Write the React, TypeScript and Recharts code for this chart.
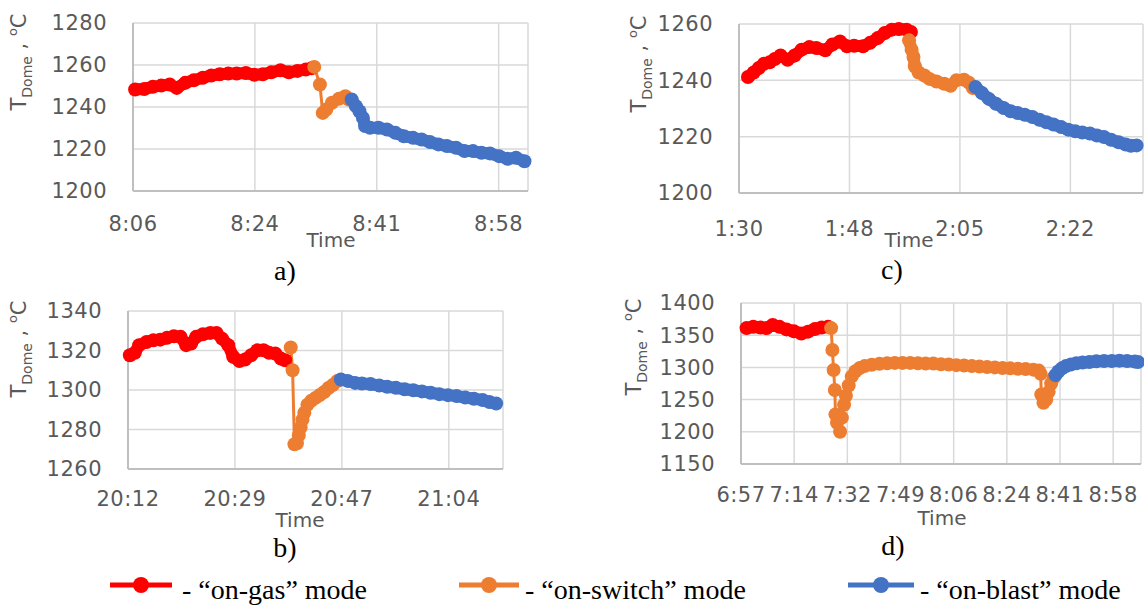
import React from 'react';
import { LineChart, Line, XAxis, YAxis, CartesianGrid } from 'recharts';

// Excel time axis major unit = 0.012 day = 17.28 min; x values are minutes from the first tick
const TICK_STEP = 17.28;

const RED = '#ff0000';
const ORANGE = '#ed7d31';
const BLUE = '#4472c4';

// ---- a) ----
const aTimeLabels = ['8:06', '8:24', '8:41', '8:58'];
const aTempTicks = [1200, 1220, 1240, 1260, 1280];
const aGas = [
  [0.3, 1248.3], [1.6, 1248.6], [2.8, 1249.6], [4.0, 1250.2], [5.2, 1250.7], [6.2, 1249.1],
  [7.4, 1251.5], [8.6, 1252.7], [9.9, 1253.9], [11.1, 1255.0], [12.3, 1255.6], [13.5, 1255.9],
  [14.7, 1255.9], [16.0, 1256.2], [17.2, 1255.3], [18.4, 1255.6], [19.6, 1256.5], [20.9, 1257.5],
  [22.1, 1256.5], [23.3, 1257.2], [24.5, 1257.8], [25.3, 1258.4],
];
const aSwitch = [
  [25.7, 1259.1], [26.5, 1250.7], [26.9, 1237.2], [27.4, 1238.8], [28.2, 1242.0],
  [29.2, 1243.9], [30.1, 1245.1], [30.6, 1243.6],
];
const aBlast = [
  [31.0, 1243.6], [31.6, 1240.4], [32.1, 1238.0], [32.6, 1234.8], [32.9, 1230.9], [33.6, 1230.1],
  [34.8, 1230.1], [36.0, 1229.3], [37.2, 1227.7], [38.4, 1226.1], [39.7, 1225.3], [40.9, 1224.5],
  [42.1, 1223.3], [43.3, 1222.2], [44.5, 1221.4], [45.8, 1220.6], [47.0, 1219.0], [48.2, 1219.0],
  [49.4, 1218.2], [50.6, 1217.9], [51.9, 1216.6], [53.1, 1215.3], [54.3, 1215.8], [55.5, 1214.2],
];

// ---- c) ----
const cTimeLabels = ['1:30', '1:48', '2:05', '2:22'];
const cTempTicks = [1200, 1220, 1240, 1260];
const cGas = [
  [1.4, 1241.2], [2.3, 1242.8], [3.1, 1244.4], [3.9, 1245.9], [4.8, 1246.4], [5.6, 1247.6],
  [6.5, 1248.8], [7.6, 1247.3], [8.7, 1248.8], [9.8, 1250.9], [11.0, 1251.8], [12.1, 1251.5],
  [13.5, 1250.7], [14.6, 1252.7], [15.8, 1253.8], [16.9, 1252.1], [18.0, 1252.3], [19.4, 1252.1],
  [20.5, 1253.3], [21.7, 1255.0], [22.8, 1256.8], [23.9, 1258.0], [25.0, 1258.2], [26.2, 1258.0],
  [26.9, 1257.2],
];
const cSwitch = [
  [26.6, 1254.2], [27.0, 1250.9], [27.3, 1248.3], [27.5, 1245.0], [28.1, 1242.8], [29.0, 1241.7],
  [29.8, 1240.5], [30.9, 1239.6], [32.1, 1238.8], [33.1, 1238.1], [34.0, 1240.0], [35.2, 1240.2],
  [36.0, 1239.1], [36.6, 1237.3],
];
const cBlast = [
  [37.0, 1237.6], [38.0, 1235.5], [39.1, 1233.4], [40.2, 1231.7], [41.4, 1230.2], [42.5, 1229.0],
  [43.6, 1228.4], [44.7, 1227.8], [45.9, 1227.0], [47.0, 1226.0], [48.1, 1225.1], [49.2, 1224.3],
  [50.4, 1223.4], [51.5, 1222.5], [52.6, 1221.9], [53.7, 1221.5], [54.9, 1221.1], [56.0, 1220.4],
  [57.1, 1219.9], [58.2, 1218.9], [59.4, 1218.0], [60.5, 1217.2], [61.3, 1216.8], [62.2, 1216.9],
];

// ---- b) ----
const bTimeLabels = ['20:12', '20:29', '20:47', '21:04'];
const bTempTicks = [1260, 1280, 1300, 1320, 1340];
const bGas = [
  [0.3, 1317.6], [1.1, 1318.8], [1.8, 1322.7], [3.0, 1324.3], [4.1, 1325.2], [5.2, 1325.5],
  [6.3, 1326.4], [7.4, 1327.2], [8.5, 1326.9], [9.4, 1322.7], [10.2, 1323.5], [11.0, 1326.9],
  [12.1, 1328.2], [13.3, 1328.9], [14.3, 1328.9], [15.2, 1326.0], [16.2, 1322.7], [17.0, 1316.8],
  [18.0, 1314.7], [18.9, 1315.4], [19.9, 1317.6], [20.9, 1320.1], [21.9, 1320.1], [22.8, 1318.8],
  [23.8, 1318.5], [24.7, 1315.9], [25.4, 1315.1],
];
const bSwitch = [
  [26.3, 1321.5], [26.6, 1310.0], [26.9, 1272.5], [27.3, 1273.0], [27.6, 1277.0], [27.9, 1281.0],
  [28.2, 1285.0], [28.5, 1288.5], [29.0, 1292.5], [29.6, 1294.5], [30.3, 1296.0], [31.0, 1297.5],
  [31.7, 1299.0], [32.4, 1301.0], [33.1, 1302.5], [33.8, 1304.5],
];
const bBlast = [
  [34.4, 1305.3], [35.5, 1304.6], [36.7, 1303.6], [37.8, 1303.3], [39.2, 1303.0], [40.6, 1302.3],
  [41.9, 1301.6], [43.3, 1301.1], [44.7, 1300.4], [46.1, 1299.9], [47.5, 1299.3], [48.9, 1298.6],
  [50.3, 1297.9], [51.7, 1297.4], [53.1, 1296.9], [54.5, 1296.2], [55.9, 1295.6], [57.3, 1294.9],
  [58.4, 1293.9], [59.5, 1293.2],
];

// ---- d) ----
const dTimeLabels = ['6:57', '7:14', '7:32', '7:49', '8:06', '8:24', '8:41', '8:58'];
const dTempTicks = [1150, 1200, 1250, 1300, 1350, 1400];
const dGas = [
  [1.8, 1361], [4.0, 1363], [6.3, 1362], [8.3, 1361], [10.3, 1366], [12.5, 1363], [14.8, 1359],
  [17.2, 1356], [19.6, 1352.5], [21.8, 1355.5], [24.0, 1359.5], [26.2, 1362], [28.3, 1363],
];
const dSwitch = [
  [29.3, 1361], [29.7, 1327], [30.1, 1296], [30.5, 1265], [30.7, 1227], [31.2, 1214], [32.2, 1200],
  [32.8, 1222], [33.5, 1242], [34.1, 1256], [35.0, 1272], [36.0, 1286], [37.2, 1294], [38.6, 1299],
  [40.2, 1302], [42.5, 1304], [45, 1305.5], [47.5, 1306.5], [50, 1307], [52.5, 1307], [55, 1307],
  [57.5, 1306.5], [60, 1306], [62.5, 1306], [65, 1305], [67.5, 1304.5], [70, 1303.5], [72.5, 1303],
  [75, 1302], [77.5, 1301.5], [80, 1300.5], [82.5, 1300], [85, 1299], [87.5, 1298.5], [90, 1298],
  [92.5, 1297.5], [95, 1296.5], [96.8, 1295], [97.4, 1290], [97.6, 1258], [98.3, 1245],
  [99.2, 1250], [100.0, 1262], [100.8, 1275], [101.6, 1284],
];
const dBlast = [
  [102.2, 1288], [103.2, 1294], [104.3, 1298.5], [105.6, 1302], [107.2, 1304.5], [109, 1306.5],
  [111, 1307.5], [113.2, 1308.5], [115.5, 1309.5], [118, 1310], [120.5, 1310], [123, 1310.5],
  [125.5, 1310], [128, 1309], [129, 1308.5],
];

const legendItems = [
  { color: RED, text: '- \u201con-gas\u201d mode' },
  { color: ORANGE, text: '- \u201con-switch\u201d mode' },
  { color: BLUE, text: '- \u201con-blast\u201d mode' },
];

const SANS = '"DejaVu Sans", sans-serif';
const SERIF = '"Liberation Serif", "Times New Roman", serif';
const GREY = '#595959';

const toRows = (pts: number[][]) => pts.map(([t, v]) => ({ t, v }));

const tickStyle = { fill: GREY, fontSize: 21, fontFamily: SANS, letterSpacing: 0.5 };

type PanelProps = {
  box: { left: number; top: number; width: number; height: number };
  plot: { left: number; top: number; right: number; bottom: number };
  xMax: number;
  timeLabels: string[];
  tempTicks: number[];
  gas: number[][];
  sw: number[][];
  blast: number[][];
  swWidth: number;
  xTickMargin: number;
};

const Panel = ({ box, plot, xMax, timeLabels, tempTicks, gas, sw, blast, swWidth, xTickMargin }: PanelProps) => {
  const margin = {
    top: plot.top - box.top,
    right: box.left + box.width - plot.right,
    bottom: 0,
    left: 0,
  };
  const xTicks = timeLabels.map((_, i) => i * TICK_STEP);
  // dense runs of Excel markers read as a thick band; sparse switch segments keep the thin line
  const series = [
    { pts: gas, color: RED, width: 12 },
    { pts: sw, color: ORANGE, width: swWidth },
    { pts: blast, color: BLUE, width: 12 },
  ];
  return (
    <div style={{ position: 'absolute', left: box.left, top: box.top }}>
      <LineChart width={box.width} height={box.height} margin={margin}>
        <CartesianGrid stroke="#d9d9d9" strokeWidth={1.5} />
        <XAxis
          type="number"
          dataKey="t"
          domain={[0, xMax]}
          ticks={xTicks}
          interval={0}
          tickFormatter={(v: number) => timeLabels[Math.round(v / TICK_STEP)]}
          height={box.top + box.height - plot.bottom}
          axisLine={{ stroke: '#bfbfbf', strokeWidth: 2 }}
          tickLine={false}
          tickSize={6}
          tickMargin={xTickMargin}
          tick={tickStyle}
        />
        <YAxis
          type="number"
          domain={[tempTicks[0], tempTicks[tempTicks.length - 1]]}
          ticks={tempTicks}
          interval={0}
          width={plot.left - box.left}
          axisLine={{ stroke: '#bfbfbf', strokeWidth: 2 }}
          tickLine={false}
          tickSize={6}
          tickMargin={20}
          tick={tickStyle}
        />
        {series.map((s, i) => (
          <Line
            key={i}
            data={toRows(s.pts)}
            dataKey="v"
            stroke={s.color}
            strokeWidth={s.width}
            strokeLinejoin="round"
            strokeLinecap="round"
            dot={{ r: 7, fill: s.color, stroke: s.color, strokeWidth: 0 }}
            activeDot={false}
            isAnimationActive={false}
          />
        ))}
      </LineChart>
    </div>
  );
};

const YLabel = ({ x, y }: { x: number; y: number }) => (
  <text
    transform={`rotate(-90 ${x} ${y})`}
    x={x}
    y={y}
    textAnchor="middle"
    fill={GREY}
    fontFamily={SANS}
    fontSize={21}
  >
    <tspan>T</tspan>
    <tspan fontSize={14} dy={6}>Dome</tspan>
    <tspan dy={-6}> , </tspan>
    <tspan fontSize={13} dy={-9}>o</tspan>
    <tspan dy={9}>C</tspan>
  </text>
);

const TimeLabel = ({ x, y }: { x: number; y: number }) => (
  <text x={x} y={y + 7.5} textAnchor="middle" fill={GREY} fontFamily={SANS} fontSize={20}>
    Time
  </text>
);

const Caption = ({ x, y, text }: { x: number; y: number; text: string }) => (
  <text x={x} y={y} textAnchor="middle" fill="#000" fontFamily={SERIF} fontSize={28}>
    {text}
  </text>
);

const legendPos = [
  { lineFrom: 110, lineTo: 172, textX: 182 },
  { lineFrom: 459, lineTo: 519, textX: 525 },
  { lineFrom: 848, lineTo: 914, textX: 920 },
];

export default function App() {
  return (
    <div style={{ position: 'absolute', left: 0, top: 0, width: 1144, height: 606, background: '#fff' }}>
      <Panel
        box={{ left: 0, top: 0, width: 540, height: 260 }}
        plot={{ left: 133, top: 23, right: 528, bottom: 191 }}
        xMax={56}
        timeLabels={aTimeLabels}
        tempTicks={aTempTicks}
        gas={aGas}
        sw={aSwitch}
        blast={aBlast}
        swWidth={3}
        xTickMargin={18.7}
      />
      <Panel
        box={{ left: 580, top: 0, width: 564, height: 260 }}
        plot={{ left: 739, top: 24, right: 1143, bottom: 193 }}
        xMax={63.2}
        timeLabels={cTimeLabels}
        tempTicks={cTempTicks}
        gas={cGas}
        sw={cSwitch}
        blast={cBlast}
        swWidth={12}
        xTickMargin={21.7}
      />
      <Panel
        box={{ left: 0, top: 290, width: 540, height: 250 }}
        plot={{ left: 128, top: 311, right: 503, bottom: 469 }}
        xMax={60.6}
        timeLabels={bTimeLabels}
        tempTicks={bTempTicks}
        gas={bGas}
        sw={bSwitch}
        blast={bBlast}
        swWidth={3}
        xTickMargin={15.7}
      />
      <Panel
        box={{ left: 560, top: 280, width: 584, height: 250 }}
        plot={{ left: 741, top: 303, right: 1141, bottom: 464 }}
        xMax={130}
        timeLabels={dTimeLabels}
        tempTicks={dTempTicks}
        gas={dGas}
        sw={dSwitch}
        blast={dBlast}
        swWidth={3}
        xTickMargin={16.7}
      />
      <svg
        width={1144}
        height={606}
        style={{ position: 'absolute', left: 0, top: 0, pointerEvents: 'none' }}
      >
        <YLabel x={26} y={62} />
        <YLabel x={646} y={64} />
        <YLabel x={26} y={349} />
        <YLabel x={641} y={347} />
        <TimeLabel x={331} y={239} />
        <TimeLabel x={909} y={239} />
        <TimeLabel x={300} y={519} />
        <TimeLabel x={942} y={517} />
        <Caption x={285} y={280} text="a)" />
        <Caption x={892} y={279} text="c)" />
        <Caption x={285} y={557} text="b)" />
        <Caption x={893} y={555} text="d)" />
        {legendItems.map((item, i) => {
          const p = legendPos[i];
          const mid = (p.lineFrom + p.lineTo) / 2;
          return (
            <g key={item.text}>
              <line x1={p.lineFrom} x2={p.lineTo} y1={585} y2={585} stroke={item.color} strokeWidth={5} />
              <circle cx={mid} cy={585} r={8} fill={item.color} />
              <text x={p.textX} y={599} fill="#000" fontFamily={SERIF} fontSize={28}>
                {item.text}
              </text>
            </g>
          );
        })}
      </svg>
    </div>
  );
}
